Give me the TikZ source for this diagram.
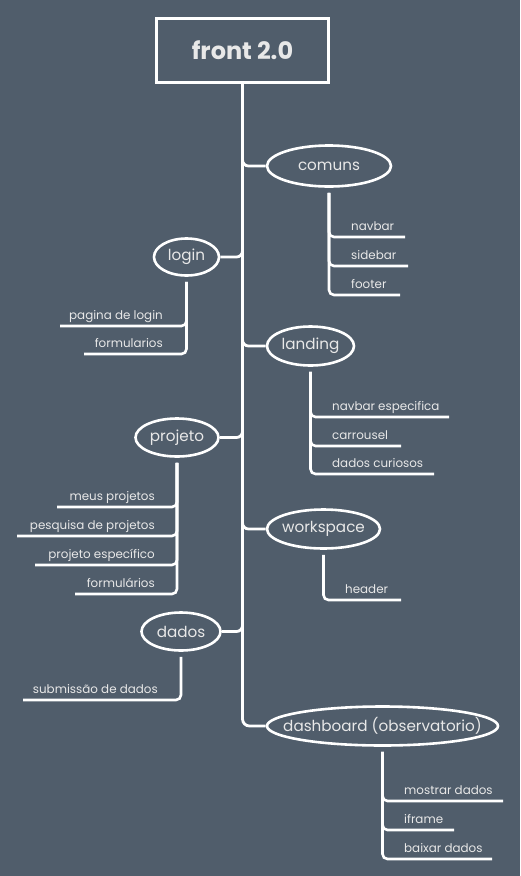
\documentclass[tikz,border=0pt]{standalone}
\usepackage{fontspec}
\setmainfont{Poppins}
\usetikzlibrary{shapes.geometric}
\definecolor{slate}{HTML}{505D6B}
\definecolor{ink}{HTML}{E8E8E8}
\tikzset{
  link/.style={draw=white, line width=2.6pt, rounded corners=5pt},
  trunk/.style={draw=white, line width=2.8pt, rounded corners=7pt},
  rootbox/.style={draw=white, line width=3pt, rectangle, minimum width=172pt,
    minimum height=64pt, inner sep=0pt, text=ink,
    font=\fontsize{24}{27}\selectfont\bfseries},
  topic/.style={draw=white, line width=2.6pt, ellipse, inner sep=0pt, text=ink,
    font=\fontsize{15.2}{18}\selectfont},
  leafR/.style={anchor=base west, inner sep=0pt, text=ink,
    font=\fontsize{11.9}{14}\selectfont},
  leafL/.style={anchor=base east, inner sep=0pt, text=ink,
    font=\fontsize{11.9}{14}\selectfont},
}
\newcommand{\zw}[1]{\makebox[0pt][c]{#1}}
\begin{document}
\begin{tikzpicture}[x=1pt, y=-1pt]
  \fill[slate] (0,0) rectangle (520,876);
  \useasboundingbox (0,0) rectangle (520,876);

  % root and topics
  \node[rootbox] (root) at (242.5,50.5) {front 2.0};
  \node[topic, minimum width=124pt, minimum height=41pt] (comuns) at (329,166) {\zw{comuns}};
  \node[topic, minimum width=65pt, minimum height=37pt] (login) at (186.5,257) {\zw{login}};
  \node[topic, minimum width=87pt, minimum height=39pt] (landing) at (310.5,346) {\zw{landing}};
  \node[topic, minimum width=83pt, minimum height=38pt] (projeto) at (177,437.5) {\zw{projeto}};
  \node[topic, minimum width=113pt, minimum height=39pt] (workspace) at (323.5,529) {\zw{workspace}};
  \node[topic, minimum width=79pt, minimum height=38pt] (dados) at (181,631.5) {\zw{dados}};
  \node[topic, minimum width=231pt, minimum height=39pt] (dash) at (382.5,726) {\zw{dashboard (observatorio)}};

  % main trunk and branches
  \draw[trunk] (root.south) |- (dash.west);
  \foreach \t in {comuns, landing, workspace}
    \draw[trunk, rounded corners=6pt] (root.south) |- (\t.west);
  \foreach \t in {login, projeto, dados}
    \draw[trunk, rounded corners=6pt] (root.south) |- (\t.east);

  % comuns
  \coordinate (navbar-u) at (405,237);
  \coordinate (sidebar-u) at (408,266);
  \coordinate (footer-u) at (400,295);
  \node[leafR] (navbar) at (351,230) {navbar};
  \node[leafR] (sidebar) at (351,259) {sidebar};
  \node[leafR] (footer) at (351,288) {footer};
  \foreach \c in {navbar-u, sidebar-u, footer-u}
    \draw[link] ([yshift=-5pt]comuns.south) |- (\c);

  % login
  \coordinate (paglogin-u) at (60,326);
  \coordinate (formlogin-u) at (84,354);
  \node[leafL] (paglogin) at (163,319) {pagina de login};
  \node[leafL] (formlogin) at (163,347) {formularios};
  \foreach \c in {paglogin-u, formlogin-u}
    \draw[link] ([yshift=-5pt]login.south) |- (\c);

  % landing
  \coordinate (navesp-u) at (449,417);
  \coordinate (carrousel-u) at (401,446);
  \coordinate (curiosos-u) at (434,474);
  \node[leafR] (navesp) at (332,410) {navbar especifica};
  \node[leafR] (carrousel) at (332,439) {carrousel};
  \node[leafR] (curiosos) at (332,467) {dados curiosos};
  \foreach \c in {navesp-u, carrousel-u, curiosos-u}
    \draw[link] ([yshift=-5pt]landing.south) |- (\c);

  % projeto
  \coordinate (meus-u) at (57,507);
  \coordinate (pesquisa-u) at (17,536);
  \coordinate (especifico-u) at (35,565);
  \coordinate (formproj-u) at (75,594);
  \node[leafL] (meus) at (155,500) {meus projetos};
  \node[leafL] (pesquisa) at (155,529) {pesquisa de projetos};
  \node[leafL] (especifico) at (155,558) {projeto específico};
  \node[leafL] (formproj) at (155,587) {formulários};
  \foreach \c in {meus-u, pesquisa-u, especifico-u, formproj-u}
    \draw[link] ([yshift=-5pt]projeto.south) |- (\c);

  % workspace
  \coordinate (header-u) at (401,600);
  \node[leafR] (header) at (345,593) {header};
  \draw[link] ([yshift=-5pt]workspace.south) |- (header-u);

  % dados
  \coordinate (submissao-u) at (23,700);
  \node[leafL] (submissao) at (158,693) {submissão de dados};
  \draw[link] ([yshift=-5pt]dados.south) |- (submissao-u);

  % dashboard
  \coordinate (mostrar-u) at (503,801);
  \coordinate (iframe-u) at (454,830);
  \coordinate (baixar-u) at (492,859);
  \node[leafR] (mostrar) at (404,794) {mostrar dados};
  \node[leafR] (iframe) at (404,823) {iframe};
  \node[leafR] (baixar) at (404,852) {baixar dados};
  \foreach \c in {mostrar-u, iframe-u, baixar-u}
    \draw[link] ([yshift=-5pt]dash.south) |- (\c);
\end{tikzpicture}
\end{document}
